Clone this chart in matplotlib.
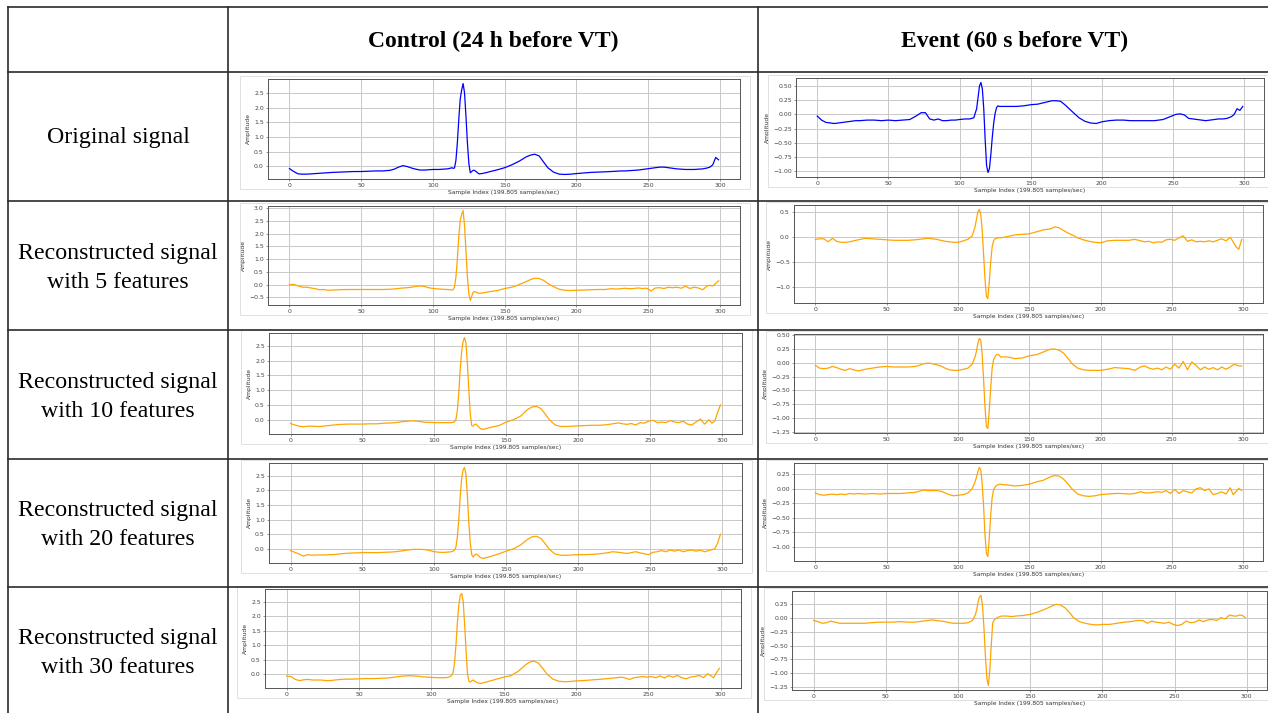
import numpy as np
import matplotlib.pyplot as plt
from matplotlib.lines import Line2D
from matplotlib.patches import Rectangle
from matplotlib.ticker import MultipleLocator

sample_idx = (list(range(0, 31, 3)) + list(range(35, 71, 5)) + list(range(73, 101, 3))
              + [104, 107, 110, 112] + list(range(113, 131))
              + [132, 134, 137, 140, 145, 150, 155, 160, 165, 168, 171, 174, 177, 180,
                 184, 188, 192, 196, 200]
              + [205, 210, 215, 220, 224, 228] + list(range(231, 292, 3))
              + [293, 295, 297, 299])

# Control (24 h before VT)
ctrl_original = [-0.08, -0.18, -0.26, -0.27, -0.27, -0.26, -0.25, -0.24, -0.23, -0.22, -0.21,
                 -0.20, -0.19, -0.18, -0.18, -0.17, -0.16, -0.16, -0.14,
                 -0.10, -0.03, 0.02, -0.01, -0.06, -0.10, -0.13, -0.13, -0.12, -0.11,
                 -0.11, -0.10, -0.09, -0.07,
                 -0.05, -0.07, -0.06, 0.20, 0.80, 1.60, 2.30, 2.60, 2.82, 2.50, 1.70, 0.80, 0.10, -0.22, -0.18, -0.14, -0.14, -0.18,
                 -0.26, -0.25, -0.22, -0.18, -0.12, -0.05, 0.05, 0.17, 0.32, 0.38, 0.41, 0.35, 0.15, -0.05,
                 -0.20, -0.27, -0.28, -0.27, -0.25,
                 -0.23, -0.21, -0.20, -0.19, -0.18, -0.17,
                 -0.16, -0.16, -0.15, -0.14, -0.13, -0.11, -0.09, -0.07, -0.05, -0.03, -0.03,
                 -0.05, -0.07, -0.09, -0.10, -0.11, -0.11, -0.11, -0.10, -0.09, -0.06,
                 -0.03, 0.05, 0.30, 0.22]
ctrl_5 = [0.00, 0.01, -0.05, -0.10, -0.10, -0.13, -0.16, -0.20, -0.19, -0.22, -0.21,
          -0.20, -0.19, -0.19, -0.19, -0.19, -0.19, -0.19, -0.18,
          -0.17, -0.15, -0.13, -0.12, -0.10, -0.07, -0.05, -0.07, -0.12, -0.15,
          -0.17, -0.18, -0.19, -0.20,
          -0.21, -0.20, -0.10, 0.30, 1.00, 1.90, 2.50, 2.75, 2.90, 2.30, 1.30, 0.30, -0.35, -0.62, -0.45, -0.30, -0.27, -0.30,
          -0.34, -0.33, -0.30, -0.27, -0.23, -0.15, -0.10, 0.00, 0.12, 0.20, 0.25, 0.24, 0.17, 0.05,
          -0.08, -0.18, -0.22, -0.23, -0.22,
          -0.21, -0.20, -0.19, -0.19, -0.16, -0.17,
          -0.16, -0.14, -0.16, -0.15, -0.13, -0.15, -0.14, -0.25, -0.13, -0.12, -0.15,
          -0.10, -0.12, -0.10, -0.14, -0.06, -0.15, -0.10, -0.13, -0.20, -0.05,
          -0.03, -0.05, 0.05, 0.15]
ctrl_10 = [-0.13, -0.18, -0.22, -0.24, -0.22, -0.22, -0.23, -0.23, -0.21, -0.20, -0.18,
           -0.16, -0.15, -0.15, -0.15, -0.14, -0.14, -0.12, -0.11,
           -0.10, -0.08, -0.06, -0.05, -0.04, -0.05, -0.07, -0.09, -0.09, -0.10,
           -0.10, -0.10, -0.10, -0.10,
           -0.09, -0.08, 0.00, 0.30, 0.90, 1.70, 2.30, 2.65, 2.78, 2.60, 1.90, 1.00, 0.20, -0.20, -0.22, -0.16, -0.15, -0.20,
           -0.30, -0.33, -0.29, -0.25, -0.20, -0.08, 0.00, 0.12, 0.35, 0.43, 0.45, 0.38, 0.20, 0.00,
           -0.18, -0.23, -0.23, -0.22, -0.21,
           -0.20, -0.19, -0.19, -0.17, -0.14, -0.11,
           -0.14, -0.16, -0.13, -0.18, -0.10, -0.12, -0.05, -0.02, -0.10, -0.08, -0.10,
           -0.03, -0.08, -0.10, -0.05, -0.15, -0.18, -0.08, 0.02, -0.15, 0.00,
           -0.12, -0.05, 0.25, 0.50]
ctrl_20 = [-0.06, -0.12, -0.18, -0.25, -0.20, -0.22, -0.21, -0.21, -0.21, -0.20, -0.20,
           -0.17, -0.15, -0.14, -0.13, -0.13, -0.13, -0.12, -0.11,
           -0.10, -0.08, -0.06, -0.04, -0.02, -0.02, -0.02, -0.03, -0.06, -0.10,
           -0.12, -0.12, -0.11, -0.10,
           -0.08, -0.05, 0.05, 0.40, 1.00, 1.80, 2.40, 2.70, 2.78, 2.55, 1.80, 0.90, 0.20, -0.20, -0.28, -0.22, -0.18, -0.20,
           -0.30, -0.33, -0.29, -0.25, -0.17, -0.08, 0.00, 0.13, 0.33, 0.41, 0.43, 0.36, 0.18, -0.02,
           -0.18, -0.22, -0.22, -0.21, -0.20,
           -0.20, -0.19, -0.17, -0.14, -0.10, -0.12,
           -0.14, -0.16, -0.13, -0.10, -0.14, -0.17, -0.20, -0.12, -0.10, -0.06, -0.10,
           -0.04, -0.08, -0.04, -0.10, -0.06, -0.04, -0.08, -0.05, -0.10, -0.06,
           -0.03, 0.00, 0.20, 0.50]
ctrl_30 = [-0.06, -0.08, -0.18, -0.22, -0.19, -0.18, -0.20, -0.20, -0.20, -0.22, -0.22,
           -0.19, -0.17, -0.17, -0.16, -0.15, -0.15, -0.14, -0.13,
           -0.11, -0.09, -0.07, -0.06, -0.05, -0.06, -0.07, -0.09, -0.10, -0.11,
           -0.12, -0.12, -0.12, -0.10,
           -0.08, -0.04, 0.05, 0.40, 1.00, 1.80, 2.40, 2.72, 2.78, 2.50, 1.70, 0.80, 0.00, -0.25, -0.27, -0.22, -0.20, -0.24,
           -0.30, -0.32, -0.28, -0.24, -0.17, -0.10, -0.05, 0.10, 0.32, 0.42, 0.45, 0.38, 0.20, 0.00,
           -0.17, -0.24, -0.26, -0.25, -0.23,
           -0.22, -0.20, -0.18, -0.16, -0.14, -0.12,
           -0.10, -0.13, -0.18, -0.12, -0.10, -0.08, -0.10, -0.08, -0.12, -0.06, -0.13,
           -0.05, -0.10, -0.04, -0.12, -0.16, -0.10, -0.08, -0.04, -0.12, 0.02,
           -0.05, -0.12, 0.05, 0.20]

# Event (60 s before VT)
evt_original = [-0.03, -0.10, -0.14, -0.15, -0.16, -0.15, -0.14, -0.13, -0.12, -0.11, -0.11,
                -0.10, -0.10, -0.11, -0.10, -0.11, -0.10, -0.09, -0.02,
                0.03, 0.03, -0.08, -0.10, -0.08, -0.11, -0.11, -0.10, -0.10, -0.09,
                -0.08, -0.08, -0.06, 0.10,
                0.30, 0.50, 0.56, 0.45, 0.10, -0.45, -0.90, -1.02, -0.95, -0.70, -0.40, -0.15, 0.02, 0.12, 0.15, 0.14, 0.14, 0.14,
                0.14, 0.14, 0.14, 0.14, 0.15, 0.17, 0.18, 0.21, 0.24, 0.24, 0.23, 0.17, 0.10, 0.03,
                -0.06, -0.12, -0.15, -0.16, -0.13,
                -0.11, -0.10, -0.10, -0.11, -0.11, -0.11,
                -0.11, -0.11, -0.11, -0.10, -0.09, -0.06, -0.03, 0.00, 0.01, -0.01, -0.07,
                -0.08, -0.09, -0.10, -0.11, -0.10, -0.09, -0.08, -0.08, -0.07, -0.04,
                0.00, 0.10, 0.07, 0.14]
evt_5 = [-0.05, -0.04, -0.04, -0.10, -0.03, -0.09, -0.11, -0.11, -0.10, -0.08, -0.06,
         -0.03, -0.04, -0.05, -0.06, -0.07, -0.07, -0.07, -0.06,
         -0.05, -0.04, -0.03, -0.04, -0.05, -0.07, -0.09, -0.10, -0.11, -0.11,
         -0.08, -0.05, 0.02, 0.20,
         0.35, 0.50, 0.55, 0.45, 0.15, -0.35, -0.85, -1.20, -1.24, -0.90, -0.50, -0.20, -0.08, -0.04, -0.03, -0.02, -0.02, -0.02,
         -0.01, 0.00, 0.02, 0.04, 0.05, 0.06, 0.10, 0.14, 0.16, 0.20, 0.18, 0.13, 0.08, 0.04,
         -0.02, -0.06, -0.09, -0.11, -0.12,
         -0.08, -0.07, -0.07, -0.07, -0.05, -0.08,
         -0.10, -0.09, -0.12, -0.10, -0.11, -0.06, -0.05, -0.07, -0.02, 0.02, -0.09,
         -0.06, -0.10, -0.09, -0.10, -0.08, -0.10, -0.07, -0.04, -0.08, -0.01,
         -0.10, -0.20, -0.25, -0.05]
evt_10 = [-0.05, -0.10, -0.11, -0.10, -0.07, -0.09, -0.12, -0.14, -0.11, -0.13, -0.15,
          -0.12, -0.10, -0.08, -0.07, -0.08, -0.08, -0.08, -0.07,
          -0.05, -0.02, -0.01, -0.02, -0.04, -0.06, -0.10, -0.13, -0.14, -0.14,
          -0.12, -0.10, -0.03, 0.10,
          0.20, 0.35, 0.43, 0.40, 0.15, -0.30, -0.80, -1.15, -1.18, -0.85, -0.45, -0.10, 0.05, 0.10, 0.14, 0.15, 0.13, 0.10,
          0.10, 0.10, 0.09, 0.07, 0.08, 0.12, 0.14, 0.19, 0.24, 0.24, 0.22, 0.17, 0.08, -0.02,
          -0.10, -0.13, -0.14, -0.14, -0.14,
          -0.12, -0.09, -0.10, -0.11, -0.14, -0.08,
          -0.06, -0.10, -0.12, -0.10, -0.13, -0.08, -0.12, -0.03, -0.10, 0.02, -0.13,
          0.01, -0.05, -0.13, -0.08, -0.12, -0.09, -0.13, -0.08, -0.12, -0.08,
          -0.04, -0.04, -0.06, -0.06]
evt_20 = [-0.07, -0.10, -0.11, -0.10, -0.09, -0.10, -0.09, -0.10, -0.08, -0.09, -0.08,
          -0.09, -0.08, -0.09, -0.08, -0.08, -0.08, -0.07, -0.06,
          -0.04, -0.02, -0.03, -0.03, -0.03, -0.04, -0.07, -0.10, -0.12, -0.11,
          -0.10, -0.07, 0.00, 0.12,
          0.20, 0.30, 0.37, 0.33, 0.10, -0.30, -0.80, -1.12, -1.17, -0.85, -0.45, -0.15, -0.02, 0.03, 0.06, 0.07, 0.08, 0.08,
          0.07, 0.07, 0.06, 0.05, 0.06, 0.08, 0.12, 0.15, 0.21, 0.23, 0.22, 0.17, 0.09, 0.00,
          -0.09, -0.12, -0.13, -0.12, -0.10,
          -0.09, -0.08, -0.08, -0.09, -0.08, -0.05,
          -0.07, -0.07, -0.06, -0.05, -0.06, -0.03, -0.08, -0.01, -0.08, -0.03, -0.05,
          -0.07, 0.00, 0.02, -0.03, 0.00, -0.10, -0.08, -0.05, -0.09, 0.02,
          -0.10, -0.05, 0.01, -0.03]
evt_30 = [-0.05, -0.07, -0.10, -0.09, -0.06, -0.08, -0.10, -0.10, -0.10, -0.10, -0.10,
          -0.10, -0.09, -0.08, -0.08, -0.08, -0.07, -0.08, -0.08,
          -0.07, -0.06, -0.05, -0.04, -0.05, -0.06, -0.07, -0.09, -0.10, -0.10,
          -0.10, -0.09, -0.05, 0.05,
          0.15, 0.30, 0.38, 0.40, 0.20, -0.20, -0.70, -1.10, -1.22, -0.95, -0.50, -0.10, -0.04, -0.02, 0.00, 0.01, 0.02, 0.03,
          0.03, 0.03, 0.02, 0.03, 0.04, 0.06, 0.10, 0.15, 0.21, 0.24, 0.23, 0.18, 0.10, 0.00,
          -0.07, -0.10, -0.12, -0.13, -0.12,
          -0.12, -0.10, -0.08, -0.07, -0.05, -0.05,
          -0.10, -0.06, -0.08, -0.09, -0.10, -0.08, -0.12, -0.14, -0.12, -0.06, -0.09,
          -0.08, -0.04, -0.07, -0.04, -0.03, -0.05, 0.00, -0.02, 0.05, 0.03,
          0.03, 0.05, 0.04, 0.00]

row_labels = ["Original signal",
              "Reconstructed signal\nwith 5 features",
              "Reconstructed signal\nwith 10 features",
              "Reconstructed signal\nwith 20 features",
              "Reconstructed signal\nwith 30 features"]
col_titles = ["Control (24 h before VT)", "Event (60 s before VT)"]
control_rows = [ctrl_original, ctrl_5, ctrl_10, ctrl_20, ctrl_30]
event_rows = [evt_original, evt_5, evt_10, evt_20, evt_30]
control_step = [0.5, 0.5, 0.5, 0.5, 0.5]
event_step = [0.25, 0.5, 0.25, 0.25, 0.25]

W, H = 1268, 713
fig = plt.figure(figsize=(W / 100, H / 100), dpi=100)

def px(x0, y0, x1, y1):
    return [x0 / W, 1 - y1 / H, (x1 - x0) / W, (y1 - y0) / H]

# table grid
line_kw = dict(color='#2b2b2b', lw=1.2, transform=fig.transFigure)
row_y = [7, 72, 201, 330, 459, 587]
for y in row_y:
    fig.add_artist(Line2D([8 / W, 1.0], [1 - y / H, 1 - y / H], **line_kw))
for x in [8, 228, 758]:
    fig.add_artist(Line2D([x / W, x / W], [1 - 7 / H, 0], **line_kw))

serif = 'Liberation Serif'
fig.text(493 / W, 1 - 41 / H, col_titles[0], ha='center', va='center',
         fontsize=17, fontweight='bold', family=serif)
fig.text(1015 / W, 1 - 41 / H, col_titles[1], ha='center', va='center',
         fontsize=17, fontweight='bold', family=serif)
row_centers = [137, 268, 397, 525, 653]
for lab, yc in zip(row_labels, row_centers):
    fig.text(118 / W, 1 - yc / H, lab, ha='center', va='center', fontsize=17.2,
             family=serif, linespacing=1.5)

# axes boxes in pixels (left, top, right, bottom)
ctrl_boxes = [(268, 79, 740, 179), (268, 206, 740, 305), (269, 333, 742, 434),
              (269, 463, 742, 563), (265, 589, 741, 688)]
evt_boxes = [(796, 78, 1264, 177), (794, 205, 1263, 303), (794, 334, 1263, 433),
             (794, 463, 1263, 561), (792, 591, 1267, 690)]

def draw_panel(box, values, color, ystep):
    l, t, r, b = box
    fig.add_artist(Rectangle(((l - 28) / W, 1 - (b + 10) / H), (r - l + 38) / W,
                             (b - t + 13) / H, transform=fig.transFigure,
                             fill=False, edgecolor='#dcdcdc', lw=0.6))
    ax = fig.add_axes(px(l, t, r, b))
    ax.plot(sample_idx, values, color=color, lw=0.9)
    ax.xaxis.set_major_locator(MultipleLocator(50))
    ax.yaxis.set_major_locator(MultipleLocator(ystep))
    ax.grid(True, color='#c8c8c8', lw=0.7)
    ax.set_axisbelow(True)
    ax.tick_params(labelsize=4.4, length=1.5, width=0.4, pad=1.5, colors='#444444')
    for s in ax.spines.values():
        s.set_color('#555555')
        s.set_linewidth(0.7)
    ax.set_xlabel("Sample Index (199.805 samples/sec)", fontsize=4.3, labelpad=1.5,
                  color='#333333')
    ax.set_ylabel("Amplitude", fontsize=4.3, labelpad=2, color='#333333')
    return ax

for i in range(5):
    draw_panel(ctrl_boxes[i], control_rows[i], 'blue' if i == 0 else 'orange', control_step[i])
    draw_panel(evt_boxes[i], event_rows[i], 'blue' if i == 0 else 'orange', event_step[i])

fig.savefig("out.png", dpi=100)
